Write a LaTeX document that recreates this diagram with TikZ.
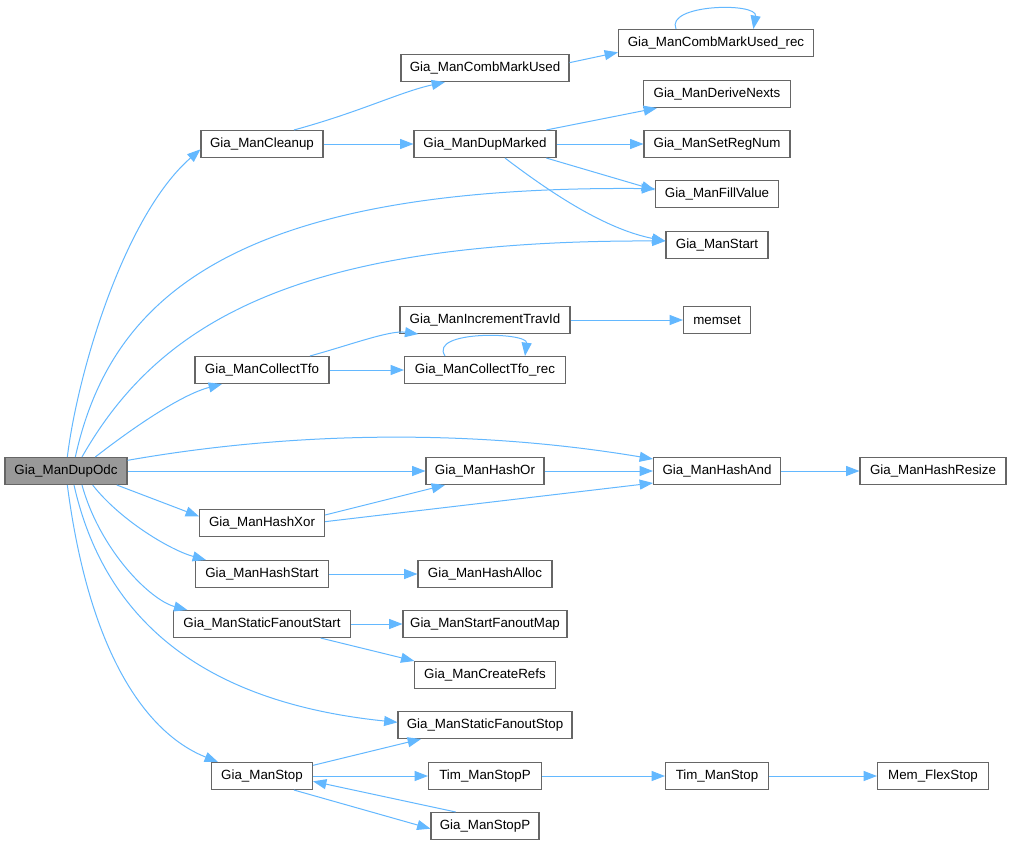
\documentclass[tikz,border=0pt]{standalone}
\usepackage{fontspec}
\setmainfont{Liberation Sans}
\usetikzlibrary{arrows.meta}
\definecolor{edgec}{HTML}{63B8FF}
\definecolor{boxc}{HTML}{666666}
\definecolor{rootc}{HTML}{999999}
\begin{document}
\begin{tikzpicture}[x=0.75pt,y=-0.75pt,
  fn/.style={draw=boxc,line width=0.8pt,fill=white,minimum height=20.25pt,inner sep=0pt,font=\fontsize{10pt}{12pt}\selectfont},
  bw/.style={minimum width=#1*0.75pt},
  e/.style={draw=edgec,line width=0.75pt,-{Triangle[length=10pt,width=7.5pt]}}]
\useasboundingbox (0,0) rectangle (1012,845);
\fill[white] (0,0) rectangle (1012,845);
% nodes
\node[fn,bw=122,fill=rootc] (dupodc) at (66,471) {Gia\_ManDupOdc};
\node[fn,bw=122] (cleanup) at (262,144) {Gia\_ManCleanup};
\node[fn,bw=168] (comb) at (485,68) {Gia\_ManCombMarkUsed};
\node[fn,bw=195] (combrec) at (716,43) {Gia\_ManCombMarkUsed\_rec};
\node[fn,bw=142] (dupmarked) at (485,144) {Gia\_ManDupMarked};
\node[fn,bw=147] (derive) at (717,94) {Gia\_ManDeriveNexts};
\node[fn,bw=146] (setreg) at (717,144) {Gia\_ManSetRegNum};
\node[fn,bw=123] (fill) at (717,194) {Gia\_ManFillValue};
\node[fn,bw=102] (start) at (717,245) {Gia\_ManStart};
\node[fn,bw=170] (incr) at (485,320) {Gia\_ManIncrementTravId};
\node[fn,bw=67] (memset) at (717,320) {memset};
\node[fn,bw=134] (tfo) at (262,370) {Gia\_ManCollectTfo};
\node[fn,bw=161] (tforec) at (485,370) {Gia\_ManCollectTfo\_rec};
\node[fn,bw=118] (hashor) at (485,471) {Gia\_ManHashOr};
\node[fn,bw=127] (hashand) at (717,471) {Gia\_ManHashAnd};
\node[fn,bw=146] (hashresize) at (933,471) {Gia\_ManHashResize};
\node[fn,bw=125] (hashxor) at (262,523) {Gia\_ManHashXor};
\node[fn,bw=133] (hashstart) at (262,574) {Gia\_ManHashStart};
\node[fn,bw=134] (hashalloc) at (485,574) {Gia\_ManHashAlloc};
\node[fn,bw=177] (sfstart) at (262,624) {Gia\_ManStaticFanoutStart};
\node[fn,bw=164] (fanmap) at (485,624) {Gia\_ManStartFanoutMap};
\node[fn,bw=141] (refs) at (485,675) {Gia\_ManCreateRefs};
\node[fn,bw=174] (sfstop) at (485,725) {Gia\_ManStaticFanoutStop};
\node[fn,bw=101] (manstop) at (262,776) {Gia\_ManStop};
\node[fn,bw=113] (timstopp) at (485,776) {Tim\_ManStopP};
\node[fn,bw=103] (timstop) at (717,776) {Tim\_ManStop};
\node[fn,bw=111] (flex) at (933,776) {Mem\_FlexStop};
\node[fn,bw=108] (giastopp) at (485,826) {Gia\_ManStopP};
% edges
\draw[e] ([xshift=1pt]dupodc.north) .. controls (78,370) and (125,215) .. ([yshift=-4pt]cleanup.west);
\draw[e] ([xshift=24pt]cleanup.north) .. controls (360,112) and (400,92) .. ([xshift=-30pt]comb.south);
\draw[e] (cleanup.east) -- (dupmarked.west);
\draw[e] ([yshift=4pt]comb.east) -- ([yshift=-7pt]combrec.west);
\draw[e] ([xshift=-30pt]combrec.north) .. controls (665,4) and (758,2) .. ([xshift=28pt]combrec.north);
\draw[e] ([xshift=46pt]dupmarked.north) -- ([xshift=-45pt]derive.south);
\draw[e] (dupmarked.east) -- (setreg.west);
\draw[e] ([xshift=46pt]dupmarked.south) -- ([yshift=3pt]fill.west);
\draw[e] ([xshift=15pt]dupmarked.south) .. controls (560,200) and (610,230) .. ([yshift=3pt]start.west);
\draw[e] ([xshift=7pt]dupodc.north) .. controls (110,300) and (230,185) .. ([yshift=4pt]fill.west);
\draw[e] ([xshift=12pt]dupodc.north) .. controls (160,320) and (300,240) .. ([yshift=3pt]start.west);
\draw[e] ([xshift=36pt]tfo.north) .. controls (350,345) and (390,330) .. ([xshift=-50pt]incr.south);
\draw[e] (incr.east) -- (memset.west);
\draw[e] (tfo.east) -- (tforec.west);
\draw[e] ([xshift=-30pt]tforec.north) .. controls (428,330) and (528,332) .. ([xshift=30pt]tforec.north);
\draw[e] ([xshift=22pt]dupodc.north) .. controls (130,430) and (180,395) .. ([xshift=-30pt]tfo.south);
\draw[e] ([yshift=8pt]dupodc.east) .. controls (300,430) and (480,430) .. ([yshift=9pt]hashand.west);
\draw[e] (dupodc.east) -- (hashor.west);
\draw[e] (hashor.east) -- (hashand.west);
\draw[e] (hashand.east) -- (hashresize.west);
\draw[e] ([xshift=-8pt]dupodc.south east) -- ([yshift=5pt]hashxor.west);
\draw[e] ([yshift=6pt]hashxor.east) -- ([xshift=-30pt]hashor.south);
\draw[e] ([yshift=1pt]hashxor.east) -- ([yshift=-9pt]hashand.west);
\draw[e] ([xshift=20pt]dupodc.south) .. controls (120,520) and (170,550) .. ([xshift=-42pt]hashstart.north);
\draw[e] (hashstart.east) -- (hashalloc.west);
\draw[e] ([xshift=12pt]dupodc.south) .. controls (100,550) and (150,600) .. ([xshift=-56pt]sfstart.north);
\draw[e] (sfstart.east) -- (fanmap.west);
\draw[e] ([xshift=44pt]sfstart.south) -- ([xshift=-53pt]refs.north);
\draw[e] ([xshift=6pt]dupodc.south) .. controls (100,600) and (180,700) .. ([yshift=2pt]sfstop.west);
\draw[e] ([xshift=1pt]dupodc.south) .. controls (90,660) and (150,735) .. ([xshift=-33pt]manstop.north);
\draw[e] ([yshift=8pt]manstop.east) -- ([xshift=-48pt]sfstop.south);
\draw[e] (manstop.east) -- (timstopp.west);
\draw[e] (timstopp.east) -- (timstop.west);
\draw[e] (timstop.east) -- (flex.west);
\draw[e] ([xshift=24pt]manstop.south) -- ([yshift=-2pt]giastopp.west);
\draw[e] ([xshift=-22pt]giastopp.north) -- ([yshift=-4pt]manstop.east);
\end{tikzpicture}
\end{document}
